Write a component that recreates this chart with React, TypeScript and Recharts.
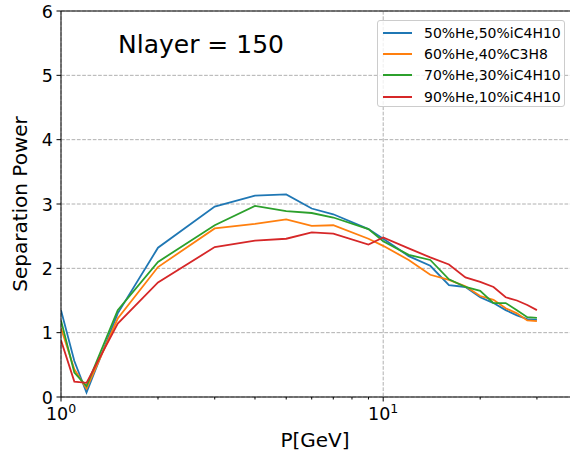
import React from 'react';
import { LineChart, Line, XAxis, YAxis, CartesianGrid, Legend, ReferenceLine, Label } from 'recharts';

const momenta = [1, 1.1, 1.2, 1.5, 2, 3, 4, 5, 6, 7, 9, 10, 12, 14, 16, 18, 20, 22, 24, 26, 28, 30];
const he50iso50 = [1.35, 0.56, 0.07, 1.3, 2.32, 2.96, 3.13, 3.15, 2.93, 2.84, 2.61, 2.46, 2.19, 2.04, 1.74, 1.71, 1.55, 1.46, 1.35, 1.27, 1.21, 1.2];
const he60pro40 = [1.07, 0.43, 0.13, 1.22, 2.02, 2.62, 2.69, 2.76, 2.66, 2.67, 2.46, 2.35, 2.13, 1.9, 1.82, 1.72, 1.57, 1.51, 1.38, 1.3, 1.19, 1.18];
const he70iso30 = [1.19, 0.38, 0.17, 1.35, 2.1, 2.67, 2.97, 2.89, 2.86, 2.79, 2.61, 2.42, 2.21, 2.13, 1.83, 1.71, 1.65, 1.46, 1.46, 1.35, 1.24, 1.23];
const he90iso10 = [0.88, 0.24, 0.22, 1.14, 1.78, 2.33, 2.43, 2.46, 2.56, 2.54, 2.37, 2.48, 2.31, 2.17, 2.06, 1.86, 1.79, 1.71, 1.55, 1.5, 1.43, 1.35];

const xTicks = [1, 2, 3, 4, 5, 6, 7, 8, 9, 10, 20, 30];
const yTicks = [0, 1, 2, 3, 4, 5, 6];

const series = [
  { key: 'a', name: '50%He,50%iC4H10', color: '#1f77b4', values: he50iso50 },
  { key: 'b', name: '60%He,40%C3H8', color: '#ff7f0e', values: he60pro40 },
  { key: 'c', name: '70%He,30%iC4H10', color: '#2ca02c', values: he70iso30 },
  { key: 'd', name: '90%He,10%iC4H10', color: '#d62728', values: he90iso10 },
];

const rows = momenta.map((p, i) => {
  const row: any = { p };
  series.forEach((s) => (row[s.key] = s.values[i]));
  return row;
});

const FONT = '"DejaVu Sans", sans-serif';

const XTick = (props: any) => {
  const { x, y, payload } = props;
  const v = payload.value;
  const major = v === 1 || v === 10;
  return (
    <g>
      <line x1={x} x2={x} y1={y} y2={y + (major ? 4.5 : 2.5)} stroke="#000" strokeWidth={1} />
      {major && (
        <text x={x} y={y + 23} textAnchor="middle" fontSize={17.5} fontFamily={FONT} fill="#000">
          10<tspan dy={-7} fontSize={12.5}>{Math.round(Math.log10(v))}</tspan>
        </text>
      )}
    </g>
  );
};

const YTick = (props: any) => {
  const { x, y, payload } = props;
  return (
    <g>
      <line x1={x - 4.5} x2={x} y1={y} y2={y} stroke="#000" strokeWidth={1} />
      <text x={x - 8} y={y + 6.5} textAnchor="end" fontSize={17.5} fontFamily={FONT} fill="#000">
        {payload.value}
      </text>
    </g>
  );
};

const LegendBox = () => (
  <div
    style={{
      width: 188,
      height: 87,
      boxSizing: 'border-box',
      border: '1px solid #cccccc',
      borderRadius: 3,
      background: 'rgba(255,255,255,0.8)',
      padding: '0 0 0 5px',
      fontFamily: FONT,
      fontSize: 14,
      color: '#000',
    }}
  >
    {series.map((s, i) => (
      <div key={s.key} style={{ display: 'flex', alignItems: 'center', height: 21.3, marginTop: i === 0 ? 1 : 0 }}>
        <div style={{ width: 29, height: 2, background: s.color, marginRight: 12 }} />
        <span>{s.name}</span>
      </div>
    ))}
  </div>
);

export default function App() {
  return (
    <div style={{ position: 'absolute', left: 0, top: 0, width: 570, height: 455, background: '#fff' }}>
      <LineChart width={570} height={455} data={rows} margin={{ top: 11, right: 0, bottom: 0, left: 0 }}>
        <CartesianGrid stroke="#b0b0b0" strokeDasharray="3.7 1.6" verticalValues={[1, 10]} />
        <XAxis
          dataKey="p"
          type="number"
          scale="log"
          domain={[1, 38]}
          allowDataOverflow
          ticks={xTicks}
          interval={0}
          height={58}
          tickSize={0}
          tickMargin={0}
          tickLine={false}
          tick={<XTick />}
          axisLine={{ stroke: '#000', strokeWidth: 1 }}
        >
          <Label
            content={() => (
              <text x={315} y={447} textAnchor="middle" fontSize={20} fontFamily={FONT} fill="#000">
                P[GeV]
              </text>
            )}
          />
        </XAxis>
        <YAxis
          type="number"
          domain={[0, 6]}
          ticks={yTicks}
          width={61}
          tickSize={0}
          tickMargin={0}
          tickLine={false}
          tick={<YTick />}
          axisLine={{ stroke: '#000', strokeWidth: 1 }}
        >
          <Label
            content={() => (
              <text
                x={27}
                y={204}
                textAnchor="middle"
                fontSize={20}
                fontFamily={FONT}
                fill="#000"
                transform="rotate(-90 27 204)"
              >
                Separation Power
              </text>
            )}
          />
        </YAxis>
        <ReferenceLine y={6} stroke="#000" strokeWidth={1} strokeDasharray="" />
        <ReferenceLine
          y={6}
          stroke="none"
          label={{
            content: () => (
              <text x={118} y={53} fontSize={25} fontFamily={FONT} fill="#000">
                Nlayer = 150
              </text>
            ),
          }}
        />
        {series.map((s) => (
          <Line
            key={s.key}
            type="linear"
            dataKey={s.key}
            name={s.name}
            stroke={s.color}
            strokeWidth={1.8}
            dot={false}
            activeDot={false}
            isAnimationActive={false}
          />
        ))}
        <Legend
          verticalAlign="top"
          align="right"
          content={<LegendBox />}
          wrapperStyle={{ top: 20, left: 377, width: 188, height: 0, overflow: 'visible' }}
        />
      </LineChart>
    </div>
  );
}
